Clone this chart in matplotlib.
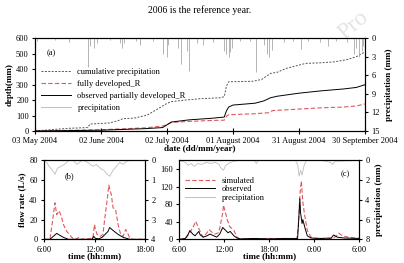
import matplotlib
matplotlib.use("Agg")
import matplotlib.pyplot as plt
import numpy as np

plt.rcParams['font.family'] = ['Liberation Serif', 'DejaVu Serif']
plt.rcParams['font.size'] = 6
plt.rcParams['axes.linewidth'] = 0.8

# ---- panel (a): cumulative depths, day 0 = 03 May 2004 ----
date_ticks = [0, 30, 60, 90, 120, 150]
date_labels = ['03 May 2004', '02 June 2004', '02 July 2004',
               '01 August 2004', '31 August 2004', '30 September 2004']

cum_days = [0, 15, 24, 25, 34, 38, 40, 45, 51, 55, 60, 62, 68, 75, 84, 86, 87,
            88, 99, 103, 107, 110, 114, 117, 123, 130, 136, 142, 146, 149, 150]
cum_precip = [0, 17, 22, 45, 52, 68, 80, 83, 103, 136, 179, 190, 200, 209, 215,
              222, 291, 319, 322, 334, 373, 380, 405, 416, 438, 442, 448, 463,
              481, 505, 512]

full_days = [0, 30, 50, 58, 60, 62, 70, 80, 86, 87, 88, 100, 106, 108, 120, 130,
             140, 146, 150]
full_dev = [0, 8, 20, 32, 42, 55, 62, 68, 70, 95, 105, 112, 118, 132, 142, 150,
            155, 162, 175]

obs_days = [0, 30, 50, 58, 60, 62, 70, 80, 86, 87, 88, 90, 100, 104, 107, 110,
            120, 130, 140, 146, 150]
obs_dev = [0, 5, 15, 22, 40, 58, 72, 82, 90, 130, 155, 168, 180, 195, 215, 225,
           245, 260, 272, 282, 300]

rain_days = [1, 9, 15.6, 24, 25, 27, 28, 34, 38.6, 39.4, 40.5, 46, 47.7, 53.8,
             58, 60, 60.6, 65, 66.4, 69, 70, 73.5, 76.5, 81, 86, 86.8, 88, 88.6,
             89.7, 93, 97.7, 100.5, 104, 105.3, 106.5, 107.6, 113, 117.4, 121,
             124, 129.5, 133, 137, 141.7, 145, 146, 147.4, 148.5, 149.2]
rain_mm = [0.5, 0.3, 0.6, 4.6, 1.2, 1.5, 0.7, 0.3, 0.8, 1.6, 0.7, 0.5, 1.0, 0.5,
           2.5, 3.0, 1.0, 1.5, 4.2, 2.0, 5.3, 0.8, 1.1, 0.6, 2.0, 2.6, 3.0, 2.2,
           1.5, 0.5, 0.4, 5.5, 1.0, 2.6, 3.0, 1.8, 0.6, 0.5, 1.7, 0.4, 0.6, 1.2,
           0.5, 0.6, 2.5, 1.5, 3.0, 2.0, 1.3]

# ---- panel (b): one event, hours ----
sim_b_t = [6, 6.7, 7.0, 7.3, 7.5, 7.8, 8.1, 8.3, 8.7, 9.3, 9.6, 10.0, 10.1, 10.3,
           11.0, 11.8, 12.0, 12.1, 12.3, 12.7, 13.0, 13.2, 13.5, 13.7, 14.0,
           14.2, 14.5, 14.8, 15.1, 15.4, 15.7, 16.0, 16.2, 16.5, 18]
sim_b = [0, 0, 18, 37, 25, 29, 22, 15, 8, 2, 0, 1, 2, 0, 0.5, 1, 15, 10, 5, 3, 5,
         20, 40, 55, 45, 32, 30, 15, 5, 3, 10, 5, 1, 0, 0]
obs_b_t = [6, 6.7, 7.5, 7.9, 8.3, 8.9, 11.7, 11.9, 12.1, 12.5, 12.9, 13.6, 13.8,
           14.2, 14.8, 15.4, 16.2, 18]
obs_b = [0, 0, 6, 4, 2, 0, 0, 3, 1, 0.5, 2, 8, 12, 9, 5, 2, 0, 0]
rain_b_t = [6, 6.3, 6.6, 7.0, 7.3, 7.6, 8.0, 8.4, 8.7, 9.0, 9.5, 9.9, 10.2, 10.6,
            11.2, 11.8, 12.2, 12.7, 13.1, 13.5, 13.8, 14.2, 14.6, 15.0, 15.4,
            15.8, 16.2, 18]
rain_b = [0, 0.1, 0.3, 0.5, 0.7, 0.4, 0.3, 0.2, 0.1, 0, 0, 0.2, 0.1, 0, 0.1, 0.3,
          0.2, 0.4, 0.5, 0.7, 0.8, 0.5, 0.3, 0.1, 0.2, 0.05, 0, 0]

# ---- panel (c): 24 h event, hours from 6:00 ----
sim_c_t = [6, 6.5, 7.0, 7.4, 7.9, 8.2, 8.6, 9.0, 9.2, 9.7, 10.0, 10.3, 10.8,
           11.2, 11.4, 11.8, 11.9, 12.1, 12.4, 12.7, 13.0, 13.3, 13.7, 14.1, 16,
           18, 20, 21.7, 21.9, 22.1, 22.3, 22.5, 22.7, 22.9, 23.1, 23.6, 24.0,
           26.5, 27.0, 27.3, 27.8, 28.5, 30]
sim_c = [0, 0, 5, 15, 30, 41, 25, 10, 5, 15, 22, 17, 12, 15, 25, 60, 78, 65, 45,
         30, 25, 20, 5, 1, 1, 2, 1, 1, 30, 100, 133, 85, 60, 40, 20, 5, 2, 2, 8,
         14, 8, 5, 2]
obs_c_t = [6, 6.8, 7.2, 7.4, 7.8, 8.1, 8.6, 8.8, 9.2, 9.7, 10.1, 10.6, 11.0,
           11.4, 11.8, 12.1, 12.5, 12.8, 13.3, 13.7, 14.1, 16, 18, 20, 21.8,
           22.0, 22.1, 22.2, 22.4, 22.5, 22.8, 23.1, 23.6, 25, 26.3, 26.6, 27.1,
           28, 30]
obs_c = [0, 2, 12, 20, 12, 8, 18, 10, 5, 8, 12, 8, 5, 12, 27, 22, 15, 18, 8, 3,
         1, 2, 1, 2, 2, 60, 93, 60, 36, 45, 25, 8, 3, 2, 3, 10, 5, 3, 2]
rain_c_t = [6, 6.8, 7.2, 7.6, 8.0, 8.5, 9.0, 9.6, 10.2, 10.8, 11.3, 11.6, 11.9,
            12.2, 12.6, 13.2, 14, 16, 16.3, 16.6, 18, 21.5, 21.8, 22.0, 22.2,
            22.4, 22.7, 23.0, 25, 26.2, 26.5, 26.8, 30]
rain_c = [0, 0.2, 0.5, 0.3, 0.6, 0.3, 0.4, 0.2, 0.3, 0.2, 0.4, 0.8, 1.0, 0.5,
          0.3, 0.1, 0, 0, 0.3, 0, 0, 0, 0.4, 1.6, 1.0, 1.5, 0.4, 0, 0, 0.2, 0.4,
          0.1, 0]

RED = '#e0585f'
GRAY = '#bdbdbd'
bold = dict(fontweight='bold', fontsize=6.5)

fig = plt.figure(figsize=(4.04, 2.63), dpi=100)
fig.text(0.495, 0.962, '2006 is the reference year.', ha='center', va='center',
         fontsize=7)
# faint "Pro(of)" stamp in the top-right corner
fig.text(0.875, 0.905, 'Pro', ha='center', va='center', fontsize=17,
         rotation=40, color='#e4e4e4', zorder=-5)

# (a)
ax = fig.add_axes([0.0866, 0.502, 0.817, 0.352])
ax.plot(cum_days, cum_precip, color='#555555', ls=(0, (2, 1.5)), lw=0.7,
        label='cumulative precipitation')
ax.plot(full_days, full_dev, color=RED, ls=(0, (4, 2)), lw=0.8,
        label='fully developed_R')
ax.plot(obs_days, obs_dev, color='k', lw=0.7,
        label='observed partially developed_R')
ax.plot([], [], color=GRAY, lw=0.7, label='precipitation')
ax.set_xlim(0, 150)
ax.set_ylim(0, 600)
ax.set_yticks(range(0, 601, 100))
ax.set_xticks(date_ticks)
ax.set_xticklabels(date_labels)
ax.tick_params(axis='x', direction='inout', length=4, pad=2)
ax.tick_params(axis='y', direction='out', length=2.5, pad=2)
ax.set_ylabel('depth(mm)', labelpad=2, **bold)
ax.set_xlabel('date (dd/mm/year)', labelpad=0, **bold)
ax.text(0.035, 0.82, '(a)', transform=ax.transAxes)
ax.legend(loc='upper left', bbox_to_anchor=(0.0, 0.74), frameon=False,
          fontsize=6, handlelength=3.6, labelspacing=0.45, borderaxespad=0.3)
ar = ax.twinx()
ar.vlines(rain_days, 0, rain_mm, color='#a8a8a8', lw=0.6)
ar.set_ylim(15, 0)
ar.set_yticks(range(0, 16, 3))
ar.tick_params(direction='out', length=2.5, pad=2)
ar.set_ylabel('precipitation (mm)', labelpad=4, **bold)

# (b)
bx = fig.add_axes([0.109, 0.090, 0.250, 0.300])
bx.plot(sim_b_t, sim_b, color=RED, ls=(0, (4, 2)), lw=0.8)
bx.plot(obs_b_t, obs_b, color='k', lw=0.7)
bx.set_xlim(6, 18)
bx.set_ylim(0, 80)
bx.set_yticks(range(0, 81, 20))
bx.set_xticks([6, 12, 18])
bx.set_xticklabels(['6:00', '12:00', '18:00'])
bx.tick_params(direction='out', length=2.5, pad=2)
bx.set_ylabel('flow rate (L/s)', labelpad=2, **bold)
bx.set_xlabel('time (hh:mm)', labelpad=-1, **bold)
bx.text(0.2, 0.78, '(b)', transform=bx.transAxes)
br = bx.twinx()
br.plot(rain_b_t, rain_b, color=GRAY, lw=0.6)
br.set_ylim(4, 0)
br.set_yticks(range(0, 5))
br.tick_params(direction='out', length=2.5, pad=2)

# (c)
cx = fig.add_axes([0.4438, 0.090, 0.4448, 0.300])
cx.plot(sim_c_t, sim_c, color=RED, ls=(0, (4, 2)), lw=0.8, label='simulated')
cx.plot(obs_c_t, obs_c, color='k', lw=0.7, label='observed')
cx.plot([], [], color=GRAY, lw=0.7, label='precipitation')
cx.set_xlim(6, 30)
cx.set_ylim(0, 180)
cx.set_yticks(range(0, 161, 40))
cx.set_xticks([6, 12, 18, 24, 30])
cx.set_xticklabels(['6:00', '12:00', '18:00', '0:00', '6:00'])
cx.tick_params(direction='out', length=2.5, pad=2)
cx.set_xlabel('time (hh:mm)', labelpad=-1, **bold)
cx.text(0.9, 0.8, '(c)', transform=cx.transAxes)
cx.legend(loc='upper left', bbox_to_anchor=(0.0, 0.87), frameon=False,
          fontsize=6, handlelength=3.6, labelspacing=0.1, borderaxespad=0.3)
cr = cx.twinx()
cr.plot(rain_c_t, rain_c, color=GRAY, lw=0.6)
cr.set_ylim(8, 0)
cr.set_yticks(range(0, 9, 2))
cr.tick_params(direction='out', length=2.5, pad=2)
cr.set_ylabel('precipitation (mm)', labelpad=4, **bold)

fig.savefig('out.png', dpi=100)
